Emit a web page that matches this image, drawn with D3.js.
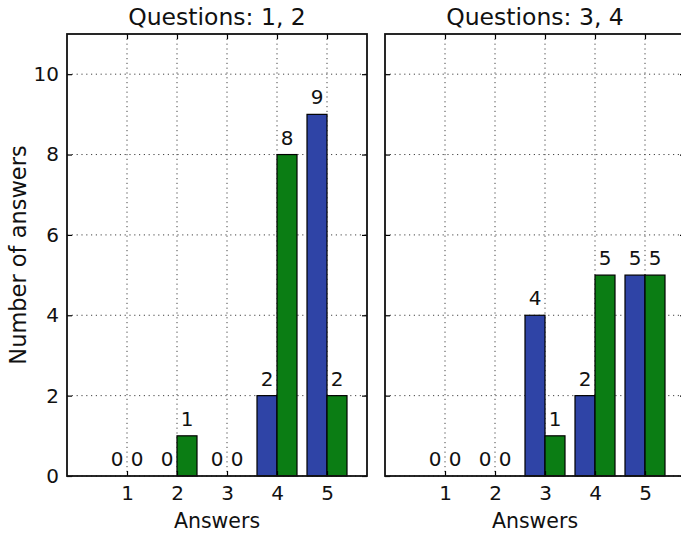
<!DOCTYPE html>
<html>
<head>
<meta charset="utf-8">
<script src="https://cdn.jsdelivr.net/npm/d3@7"></script>
<style>
  html, body { margin: 0; padding: 0; background: #fff; }
  svg { display: block; font-family: "DejaVu Sans", sans-serif; }
</style>
</head>
<body>
<svg id="chart" width="681" height="535"></svg>
<script>
// Answer categories on the x axis
const answers = [1, 2, 3, 4, 5];
const yTicks = [0, 2, 4, 6, 8, 10];

// Panel titles
const panelTitles = ["Questions: 1, 2", "Questions: 3, 4"];

// Counts per answer for each question (first series blue, second green)
const q1 = [0, 0, 0, 2, 9];
const q2 = [0, 1, 0, 8, 2];
const q3 = [0, 0, 4, 2, 5];
const q4 = [0, 0, 1, 5, 5];

const panels = [
  { title: panelTitles[0], a: q1, b: q2, left: 67 },
  { title: panelTitles[1], a: q3, b: q4, left: 385 }
];

const W = 300, plotTop = 34, plotBottom = 476;
const barW = 0.4;
const colA = "#2f44a6", colB = "#0b7d14";

const svg = d3.select("#chart");
const y = d3.scaleLinear().domain([0, 11]).range([plotBottom, plotTop]);

panels.forEach((p, i) => {
  const x = d3.scaleLinear().domain([-0.2, 5.8]).range([p.left, p.left + W]);
  const g = svg.append("g");

  // dotted grid
  g.selectAll("line.vg").data(answers).enter().append("line")
    .attr("x1", d => x(d)).attr("x2", d => x(d))
    .attr("y1", plotTop).attr("y2", plotBottom)
    .attr("stroke", "#444").attr("stroke-width", 1).attr("stroke-dasharray", "1.2,3.6");
  g.selectAll("line.hg").data(yTicks).enter().append("line")
    .attr("x1", p.left).attr("x2", p.left + W)
    .attr("y1", d => y(d)).attr("y2", d => y(d))
    .attr("stroke", "#444").attr("stroke-width", 1).attr("stroke-dasharray", "1.2,3.6");

  // bars
  const rows = answers.map((k, j) => ({ k, a: p.a[j], b: p.b[j] }));
  g.selectAll("rect.a").data(rows).enter().append("rect")
    .attr("x", d => x(d.k - barW)).attr("width", d => x(barW) - x(0))
    .attr("y", d => y(d.a)).attr("height", d => y(0) - y(d.a))
    .attr("fill", colA).attr("stroke", "#000").attr("stroke-width", 1.2)
    .style("display", d => d.a > 0 ? null : "none");
  g.selectAll("rect.b").data(rows).enter().append("rect")
    .attr("x", d => x(d.k)).attr("width", d => x(barW) - x(0))
    .attr("y", d => y(d.b)).attr("height", d => y(0) - y(d.b))
    .attr("fill", colB).attr("stroke", "#000").attr("stroke-width", 1.2)
    .style("display", d => d.b > 0 ? null : "none");

  // value labels
  const labels = [];
  rows.forEach(d => {
    labels.push({ cx: d.k - barW / 2, v: d.a });
    labels.push({ cx: d.k + barW / 2, v: d.b });
  });
  g.selectAll("text.val").data(labels).enter().append("text")
    .attr("x", d => x(d.cx)).attr("y", d => y(d.v) - 10)
    .attr("text-anchor", "middle").attr("font-size", 20).attr("fill", "#111")
    .text(d => d.v);

  // axes with inward ticks on all sides
  const xb = g.append("g").attr("transform", `translate(0,${plotBottom})`)
    .call(d3.axisBottom(x).tickValues(answers).tickSize(-5).tickPadding(9.5).tickFormat(d3.format("d")));
  const xt = g.append("g").attr("transform", `translate(0,${plotTop})`)
    .call(d3.axisTop(x).tickValues(answers).tickSize(-5).tickFormat(""));
  const yl = g.append("g").attr("transform", `translate(${p.left},0)`)
    .call(d3.axisLeft(y).tickValues(yTicks).tickSize(-5).tickPadding(8).tickFormat(i === 0 ? d3.format("d") : ""));
  const yr = g.append("g").attr("transform", `translate(${p.left + W},0)`)
    .call(d3.axisRight(y).tickValues(yTicks).tickSize(-5).tickFormat(""));
  [xb, xt, yl, yr].forEach(ax => {
    ax.select(".domain").remove();
    ax.selectAll(".tick line").attr("stroke", "#000").attr("stroke-width", 1.2);
    ax.selectAll(".tick text").attr("font-size", 20).attr("fill", "#111")
      .attr("font-family", "DejaVu Sans, sans-serif");
  });

  // frame
  g.append("rect").attr("x", p.left).attr("y", plotTop).attr("width", W).attr("height", plotBottom - plotTop)
    .attr("fill", "none").attr("stroke", "#111").attr("stroke-width", 1.8);

  // title and x label
  g.append("text").attr("x", p.left + W / 2).attr("y", 25)
    .attr("text-anchor", "middle").attr("font-size", 23.5).attr("fill", "#111")
    .text(p.title);
  g.append("text").attr("x", p.left + W / 2).attr("y", 528)
    .attr("text-anchor", "middle").attr("font-size", 20.5).attr("fill", "#111")
    .text("Answers");
});

// y label
svg.append("text")
  .attr("transform", `translate(26,${(plotTop + plotBottom) / 2}) rotate(-90)`)
  .attr("text-anchor", "middle").attr("font-size", 22.5).attr("fill", "#111")
  .text("Number of answers");
</script>
</body>
</html>
